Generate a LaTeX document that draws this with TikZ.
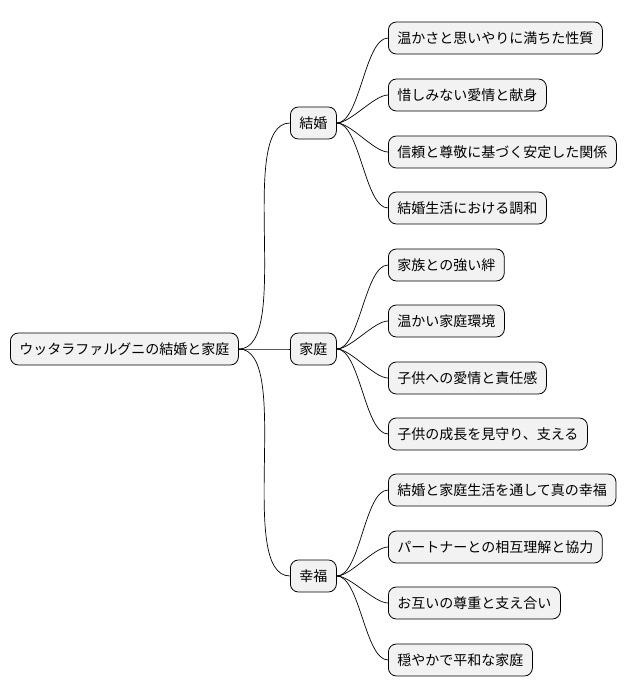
\documentclass[tikz,border=0pt]{standalone}
\usepackage{fontspec}
\setmainfont{Noto Sans CJK JP}
\begin{document}
\begin{tikzpicture}[x=1pt,y=-1pt]
\tikzstyle{every node}=[shape=rectangle, rounded corners=8pt, draw, fill=gray!10, line width=0.8pt, minimum height=32pt, inner xsep=9pt, font=\fontsize{14}{16}\selectfont]
\tikzstyle{br}=[line width=0.7pt]
\useasboundingbox (0,0) rectangle (628,696);
\node[anchor=west] (R) at (10, 349) {ウッタラファルグニの結婚と家庭};
\node[anchor=west] (M) at (290, 123) {結婚};
\node[anchor=west] (F) at (290, 349) {家庭};
\node[anchor=west] (H) at (290, 576) {幸福};
\node[anchor=west] (M1) at (388, 38) {温かさと思いやりに満ちた性質};
\node[anchor=west] (M2) at (388, 95) {惜しみない愛情と献身};
\node[anchor=west] (M3) at (388, 152) {信頼と尊敬に基づく安定した関係};
\node[anchor=west] (M4) at (388, 208) {結婚生活における調和};
\node[anchor=west] (F1) at (388, 265) {家族との強い絆};
\node[anchor=west] (F2) at (388, 321) {温かい家庭環境};
\node[anchor=west] (F3) at (388, 378) {子供への愛情と責任感};
\node[anchor=west] (F4) at (388, 434) {子供の成長を見守り、支える};
\node[anchor=west] (H1) at (388, 490) {結婚と家庭生活を通して真の幸福};
\node[anchor=west] (H2) at (388, 547) {パートナーとの相互理解と協力};
\node[anchor=west] (H3) at (388, 603) {お互いの尊重と支え合い};
\node[anchor=west] (H4) at (388, 660) {穏やかで平和な家庭};
\foreach \c in {M, F, H}
  \draw [br] (R.east) to[out=0, in=180, looseness=0.6] (\c.west);
\foreach \p in {M, F, H}
  \foreach \i in {1, 2, 3, 4}
    \draw [br] (\p.east) to[out=0, in=180, looseness=0.6] (\p\i.west);
\end{tikzpicture}
\end{document}
